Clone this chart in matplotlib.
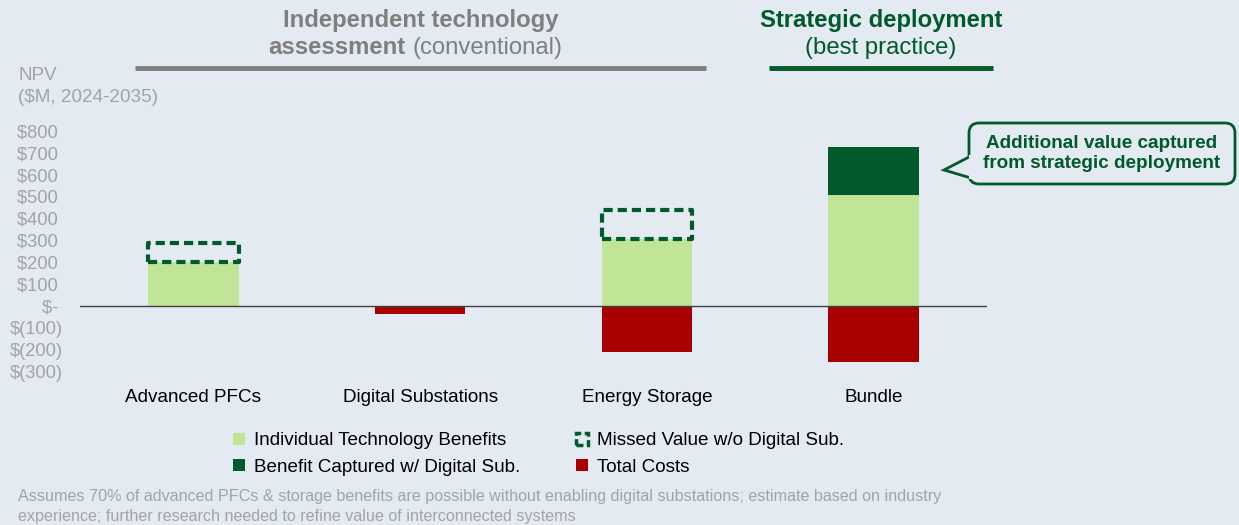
import numpy as np
import matplotlib.pyplot as plt
from matplotlib.patches import Patch, FancyBboxPatch, Polygon

plt.rcParams['font.family'] = ['Liberation Sans', 'DejaVu Sans']

categories = ["Advanced PFCs", "Digital Substations", "Energy Storage", "Bundle"]
individual_benefits = [200, 0, 305, 505]
captured_benefits = [0, 0, 0, 220]
missed_value = [85, 0, 135, 0]
total_costs = [-5, -40, -215, -260]
y_ticks = [800, 700, 600, 500, 400, 300, 200, 100, 0, -100, -200, -300]

BG = "#E4EAF1"
LIGHT_GREEN = "#C0E596"
DARK_GREEN = "#005A2B"
RED = "#A80000"
GRAY_TXT = "#A3A3A3"
HEAD_GRAY = "#7F7F7F"
FS = 13.6


def money(v):
    if v == 0:
        return "$- "
    if v < 0:
        return "$(%d)" % abs(v)
    return "$%d " % v


W, H = 1239, 525
fig = plt.figure(figsize=(W / 100, H / 100), dpi=100, facecolor=BG)
ax = fig.add_axes([80 / W, 1 - 371 / H, (987 - 80) / W, (371 - 131) / H])
ax.set_facecolor("none")

x = np.arange(len(categories))
bw = 0.4
ax.bar(x, individual_benefits, bw, color=LIGHT_GREEN, zorder=2)
ax.bar(x, captured_benefits, bw, bottom=individual_benefits, color=DARK_GREEN, zorder=2)
ax.bar(x, total_costs, bw, color=RED, zorder=2)
for xi, base, mv in zip(x, individual_benefits, missed_value):
    if mv > 0:
        ax.bar(xi, mv, bw, bottom=base, facecolor="none", edgecolor=DARK_GREEN,
               linewidth=3, linestyle=(0, (2.2, 1.2)), joinstyle="round", zorder=3)

ax.axhline(0, color="#404040", lw=1, zorder=4)
ax.set_xlim(-0.5, 3.5)
ax.set_ylim(-300, 800)
ax.set_yticks(y_ticks)
ax.set_yticklabels([money(v) for v in y_ticks], color=GRAY_TXT, fontsize=13.2)
ax.set_xticks(x)
ax.set_xticklabels(categories, fontsize=FS, color="black")
ax.tick_params(axis="y", length=0, pad=12)
ax.tick_params(axis="x", length=0, pad=13)
for s in ax.spines.values():
    s.set_visible(False)

# overlay in pixel coordinates for headers / callout
ov = fig.add_axes([0, 0, 1, 1], facecolor="none")
ov.set_xlim(0, W)
ov.set_ylim(H, 0)
ov.axis("off")

HFS = 17.2
ov.text(421, 20, "Independent technology", ha="center", va="center",
        fontsize=HFS, fontweight="bold", color=HEAD_GRAY)
ov.text(405, 48, "assessment", ha="right", va="center",
        fontsize=HFS, fontweight="bold", color=HEAD_GRAY)
ov.text(412, 48, "(conventional)", ha="left", va="center",
        fontsize=HFS, color=HEAD_GRAY)
ov.plot([135, 706], [68, 68], color=HEAD_GRAY, lw=3.5, solid_capstyle="butt")

ov.text(881, 20, "Strategic deployment", ha="center", va="center",
        fontsize=HFS, fontweight="bold", color=DARK_GREEN)
ov.text(881, 48, "(best practice)", ha="center", va="center",
        fontsize=HFS, color=DARK_GREEN)
ov.plot([769, 993], [68, 68], color=DARK_GREEN, lw=3.5, solid_capstyle="butt")

ov.text(18, 75, "NPV", ha="left", va="center", fontsize=FS, color=GRAY_TXT)
ov.text(18, 97, "($M, 2024-2035)", ha="left", va="center", fontsize=FS, color=GRAY_TXT)

# callout
box = FancyBboxPatch((969, 123), 266, 61, boxstyle="round,pad=0,rounding_size=10",
                     facecolor=BG, edgecolor=DARK_GREEN, lw=2, zorder=5)
ov.add_patch(box)
ov.add_patch(Polygon([[971, 156], [944, 170], [971, 178]], closed=False,
                     facecolor=BG, edgecolor=DARK_GREEN, lw=2, zorder=6))
ov.plot([970.5, 970.5], [157, 177], color=BG, lw=3, zorder=7)
ov.text(1102, 143, "Additional value captured", ha="center", va="center",
        fontsize=FS, fontweight="bold", color=DARK_GREEN, zorder=8)
ov.text(1102, 164, "from strategic deployment", ha="center", va="center",
        fontsize=FS, fontweight="bold", color=DARK_GREEN, zorder=8)

handles = [
    Patch(facecolor=LIGHT_GREEN, edgecolor="none", label="Individual Technology Benefits"),
    Patch(facecolor=DARK_GREEN, edgecolor="none", label="Benefit Captured w/ Digital Sub."),
    Patch(facecolor="none", edgecolor=DARK_GREEN, lw=2.5, linestyle=(0, (2, 1)),
          label="Missed Value w/o Digital Sub."),
    Patch(facecolor=RED, edgecolor="none", label="Total Costs"),
]
fig.legend(handles=handles, ncol=2, loc="upper left",
           bbox_to_anchor=(224 / W, 1 - 423 / H), frameon=False,
           fontsize=FS, handlelength=0.6, handleheight=0.6, handletextpad=0.5,
           labelspacing=0.5, columnspacing=2.95, borderpad=0)

ov.text(18, 497, "Assumes 70% of advanced PFCs & storage benefits are possible without "
        "enabling digital substations; estimate based on industry",
        ha="left", va="center", fontsize=11.6, color=GRAY_TXT)
ov.text(18, 516, "experience; further research needed to refine value of interconnected systems",
        ha="left", va="center", fontsize=11.6, color=GRAY_TXT)

fig.savefig("out.png", dpi=100, facecolor=BG)
